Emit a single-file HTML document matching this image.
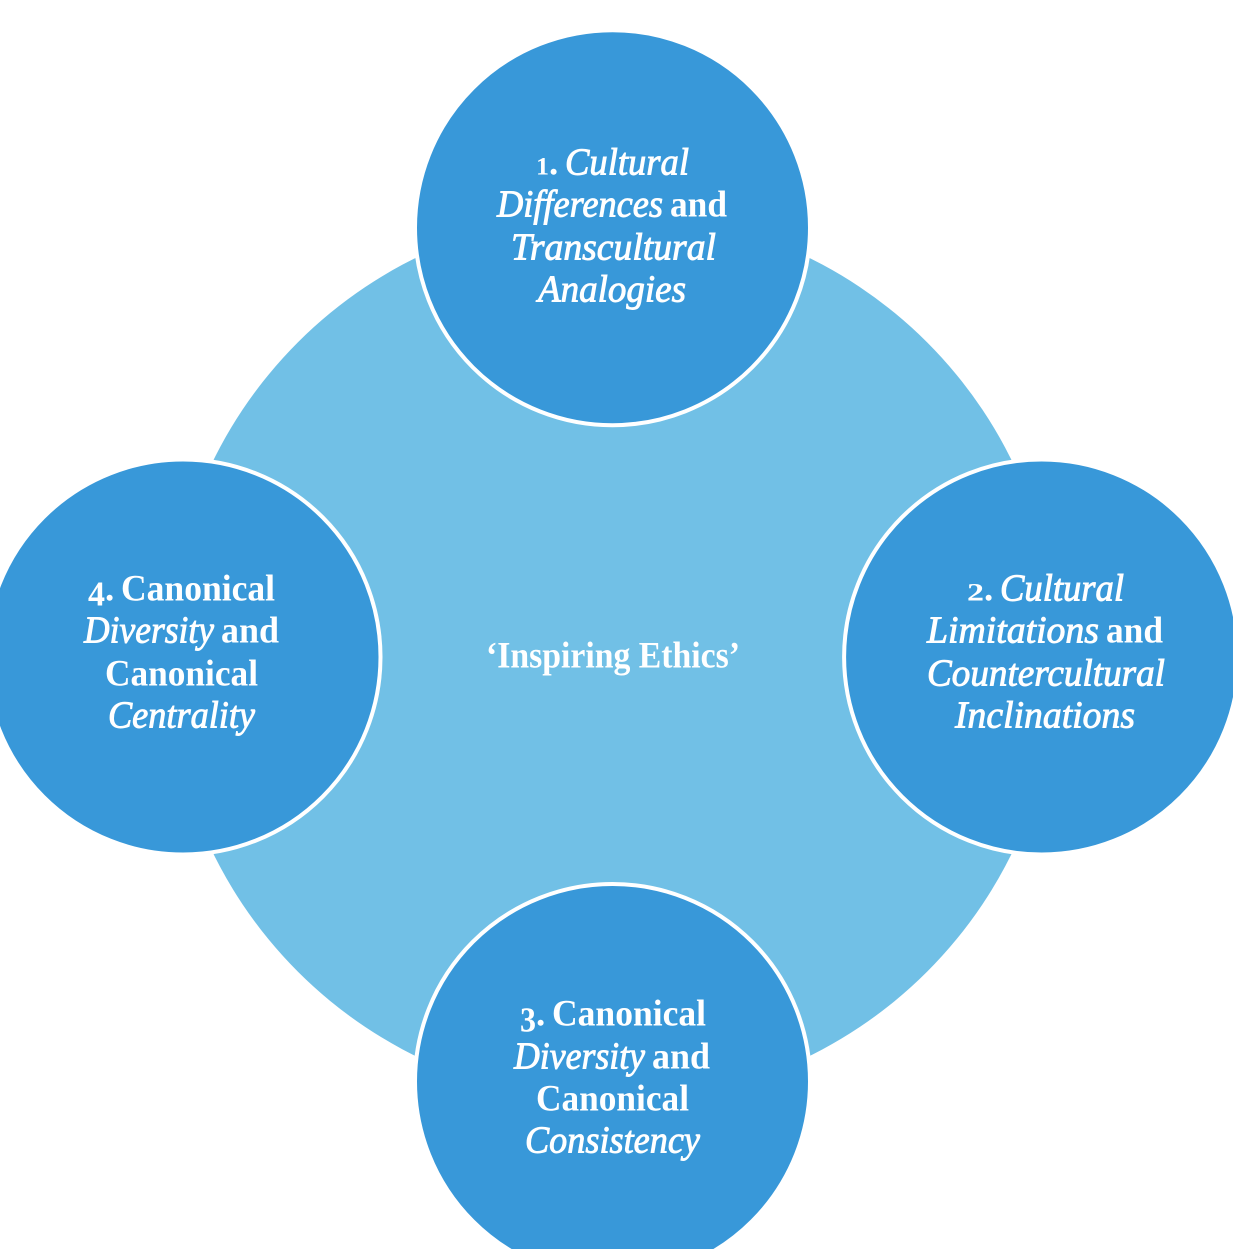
<!DOCTYPE html>
<html><head><meta charset="utf-8"><style>
html,body{margin:0;padding:0;background:#fff;width:1233px;height:1249px;overflow:hidden}
svg{display:block}
text{font-family:"Liberation Serif",serif;font-size:37px;font-weight:bold;fill:#fff}
.i{font-style:italic;font-weight:normal;font-size:38px;stroke:#fff;stroke-width:.9px}
.d{font-size:25px}
.e{font-size:35px}
</style></head><body>
<svg width="1233" height="1249" viewBox="0 0 1233 1249" xmlns="http://www.w3.org/2000/svg">
<circle cx="612.5" cy="657" r="445" fill="#71c0e6"/>
<g fill="#3898d9" stroke="#fff" stroke-width="4">
<circle cx="612.5" cy="227.7" r="197.5"/>
<circle cx="1041.6" cy="657" r="197.5"/>
<circle cx="612.5" cy="1081.5" r="197.5"/>
<circle cx="183" cy="657" r="197.5"/>
</g>
<g transform="translate(0,.7)">
<text x="536" y="174" class="d" textLength="13" lengthAdjust="spacingAndGlyphs">1</text><text x="549" y="174">.</text>
<text class="i" x="565" y="174" textLength="124" lengthAdjust="spacingAndGlyphs">Cultural</text>
<text class="i" x="497" y="216" textLength="166" lengthAdjust="spacingAndGlyphs">Differences</text>
<text x="670" y="216" textLength="57" lengthAdjust="spacingAndGlyphs">and</text>
<text class="i" x="511" y="259" textLength="205" lengthAdjust="spacingAndGlyphs">Transcultural</text>
<text class="i" x="538" y="301" textLength="148" lengthAdjust="spacingAndGlyphs">Analogies</text>

<text x="967" y="600" class="d" textLength="17" lengthAdjust="spacingAndGlyphs">2</text><text x="984" y="600">.</text>
<text class="i" x="1000" y="600" textLength="124" lengthAdjust="spacingAndGlyphs">Cultural</text>
<text class="i" x="927" y="642" textLength="172" lengthAdjust="spacingAndGlyphs">Limitations</text>
<text x="1106" y="642" textLength="57" lengthAdjust="spacingAndGlyphs">and</text>
<text class="i" x="927" y="685" textLength="238" lengthAdjust="spacingAndGlyphs">Countercultural</text>
<text class="i" x="955" y="727" textLength="180" lengthAdjust="spacingAndGlyphs">Inclinations</text>

<text x="520" y="1031" class="e" textLength="16" lengthAdjust="spacingAndGlyphs">3</text><text x="536" y="1025">.</text>
<text x="552" y="1025" textLength="154" lengthAdjust="spacingAndGlyphs">Canonical</text>
<text class="i" x="514" y="1068" textLength="131" lengthAdjust="spacingAndGlyphs">Diversity</text>
<text x="652" y="1068" textLength="58" lengthAdjust="spacingAndGlyphs">and</text>
<text x="536" y="1110" textLength="153" lengthAdjust="spacingAndGlyphs">Canonical</text>
<text class="i" x="525" y="1152" textLength="175" lengthAdjust="spacingAndGlyphs">Consistency</text>

<text x="88" y="605" class="e" textLength="17" lengthAdjust="spacingAndGlyphs">4</text><text x="105" y="600">.</text>
<text x="121" y="600" textLength="154" lengthAdjust="spacingAndGlyphs">Canonical</text>
<text class="i" x="84" y="642" textLength="130" lengthAdjust="spacingAndGlyphs">Diversity</text>
<text x="221" y="642" textLength="58" lengthAdjust="spacingAndGlyphs">and</text>
<text x="105" y="685" textLength="153" lengthAdjust="spacingAndGlyphs">Canonical</text>
<text class="i" x="108" y="727" textLength="147" lengthAdjust="spacingAndGlyphs">Centrality</text>

<text x="486" y="667" textLength="254" lengthAdjust="spacingAndGlyphs">‘Inspiring Ethics’</text>
</g>
</svg>
</body></html>
